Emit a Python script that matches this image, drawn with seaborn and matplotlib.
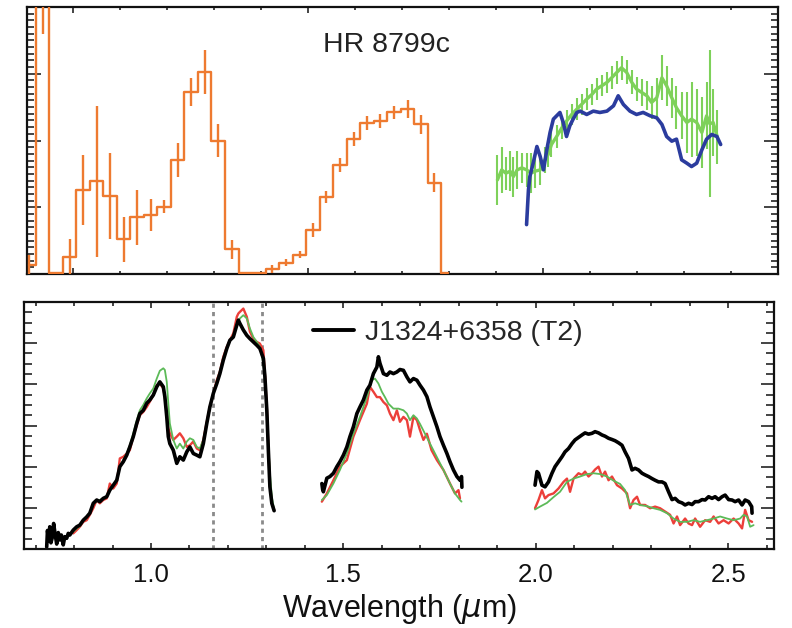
import matplotlib
matplotlib.use("Agg")
import matplotlib.pyplot as plt
from matplotlib.ticker import MultipleLocator, NullFormatter, FormatStrFormatter
from matplotlib.lines import Line2D
import numpy as np
import pandas as pd
import seaborn as sns

# ---------------- top panel data (HR 8799c) ----------------
orange_wl = [0.906, 0.935, 0.964, 0.993, 1.021, 1.050, 1.079, 1.108, 1.136, 1.165,
             1.194, 1.223, 1.251, 1.280, 1.309, 1.338, 1.367, 1.395, 1.424, 1.453,
             1.482, 1.510, 1.539, 1.568, 1.597, 1.625, 1.654, 1.683, 1.712, 1.741,
             1.769, 1.798]
orange_flux = [0.14, 5.0, 0.02, 0.26, 1.26, 1.39, 1.17, 0.52, 0.85, 0.89,
               1.01, 1.71, 2.72, 3.03, 2.00, 0.37, 0.02, 0.02, 0.07, 0.17,
               0.29, 0.66, 1.15, 1.63, 2.02, 2.26, 2.29, 2.42, 2.47, 2.24,
               1.37, 0.02]
orange_err = [0.15, 1.4, 0.0, 0.27, 0.53, 1.13, 0.64, 0.34, 0.41, 0.24,
              0.10, 0.25, 0.21, 0.33, 0.24, 0.14, 0.0, 0.0, 0.06, 0.055,
              0.05, 0.10, 0.09, 0.105, 0.105, 0.11, 0.10, 0.10, 0.14, 0.14,
              0.14, 0.0]

green_top_wl = [1.903, 1.912, 1.921, 1.930, 1.937, 1.945, 1.955, 1.965, 1.974, 1.983,
                1.994, 2.004, 2.011, 2.018, 2.029, 2.040, 2.050, 2.061, 2.072, 2.082,
                2.093, 2.104, 2.114, 2.125, 2.136, 2.146, 2.157, 2.167, 2.178, 2.189,
                2.199, 2.210, 2.221, 2.231, 2.242, 2.253, 2.263, 2.274, 2.284, 2.295,
                2.306, 2.316, 2.327, 2.338, 2.348, 2.355, 2.362, 2.371]
green_top_flux = [1.41, 1.56, 1.51, 1.54, 1.46, 1.56, 1.59, 1.56, 1.51, 1.54,
                  1.56, 1.71, 1.79, 1.94, 2.06, 2.19, 2.29, 2.39, 2.47, 2.54,
                  2.62, 2.69, 2.77, 2.82, 2.87, 2.94, 3.02, 3.09, 3.02, 2.87,
                  2.77, 2.72, 2.67, 2.57, 2.64, 2.94, 2.82, 2.64, 2.49, 2.37,
                  2.27, 2.32, 2.27, 2.12, 2.37, 2.25, 2.27, 2.05]
green_top_err = [0.38, 0.35, 0.25, 0.30, 0.30, 0.28, 0.22, 0.25, 0.30, 0.25,
                 0.22, 0.20, 0.18, 0.18, 0.17, 0.17, 0.17, 0.16, 0.16, 0.16,
                 0.16, 0.16, 0.16, 0.16, 0.16, 0.17, 0.17, 0.18, 0.18, 0.18,
                 0.18, 0.20, 0.22, 0.25, 0.30, 0.34, 0.30, 0.30, 0.32, 0.35,
                 0.45, 0.56, 0.50, 0.53, 0.50, 1.10, 0.50, 0.40]

blue_top_wl = [1.965, 1.969, 1.972, 1.979, 1.987, 1.994, 2.001, 2.008, 2.015, 2.022,
               2.029, 2.036, 2.043, 2.050, 2.057, 2.064, 2.072, 2.079, 2.093, 2.107,
               2.121, 2.136, 2.150, 2.160, 2.171, 2.185, 2.199, 2.213, 2.228, 2.242,
               2.253, 2.263, 2.274, 2.284, 2.295, 2.306, 2.316, 2.327, 2.338, 2.348,
               2.359, 2.370, 2.378]
blue_top_flux = [0.74, 1.26, 1.46, 1.66, 1.91, 1.76, 1.56, 1.86, 2.12, 2.32,
                 2.37, 2.42, 2.27, 2.06, 2.22, 2.32, 2.42, 2.44, 2.39, 2.44,
                 2.42, 2.44, 2.52, 2.67, 2.54, 2.44, 2.39, 2.42, 2.37, 2.34,
                 2.24, 2.06, 1.99, 2.02, 1.71, 1.66, 1.61, 1.66, 1.86, 2.02,
                 2.09, 2.06, 1.94]

# ---------------- bottom panel data (J1324+6358) ----------------
black_J_wl = [0.729, 0.731, 0.734, 0.737, 0.740, 0.744, 0.747, 0.751, 0.755, 0.759,
              0.763, 0.767, 0.772, 0.776, 0.781, 0.785, 0.789, 0.798, 0.807, 0.815,
              0.824, 0.833, 0.841, 0.850, 0.859, 0.867, 0.876, 0.885, 0.893, 0.902,
              0.911, 0.919, 0.928, 0.937, 0.945, 0.954, 0.963, 0.971, 0.980, 0.989,
              0.997, 1.006, 1.015, 1.023, 1.032, 1.036, 1.041, 1.045, 1.049, 1.058,
              1.067, 1.075, 1.084, 1.093, 1.101, 1.110, 1.119, 1.127, 1.136, 1.145,
              1.153, 1.162, 1.171, 1.179, 1.188, 1.197, 1.205, 1.214, 1.223, 1.227,
              1.231, 1.240, 1.249, 1.257, 1.266, 1.275, 1.283, 1.292, 1.296, 1.301,
              1.305, 1.309, 1.314, 1.320]
black_J_flux = [0.05, 0.45, 0.20, 0.54, 0.15, 0.30, 0.62, 0.35, 0.12, 0.40,
                0.22, 0.34, 0.10, 0.30, 0.26, 0.38, 0.34, 0.46, 0.54, 0.58,
                0.70, 0.78, 0.87, 1.11, 1.19, 1.15, 1.23, 1.27, 1.43, 1.55,
                1.67, 2.00, 2.12, 2.28, 2.48, 2.73, 3.05, 3.29, 3.37, 3.54,
                3.62, 3.74, 3.94, 4.06, 3.94, 3.70, 3.21, 2.73, 2.56, 2.40,
                2.08, 2.24, 2.16, 2.36, 2.48, 2.32, 2.28, 2.24, 2.56, 3.05,
                3.45, 3.78, 4.02, 4.26, 4.59, 4.87, 5.07, 5.15, 5.44, 5.56,
                5.48, 5.32, 5.19, 5.11, 5.03, 4.95, 4.87, 4.63, 4.19, 3.37,
                2.40, 1.51, 1.11, 0.93]

model_J_wl = [0.798, 0.807, 0.815, 0.824, 0.833, 0.841, 0.850, 0.859, 0.867, 0.876,
              0.885, 0.893, 0.902, 0.911, 0.919, 0.928, 0.937, 0.945, 0.954, 0.963,
              0.971, 0.980, 0.989, 0.997, 1.006, 1.015, 1.023, 1.032, 1.036, 1.041,
              1.045, 1.049, 1.058, 1.067, 1.075, 1.084, 1.093, 1.101, 1.110, 1.119,
              1.127, 1.136, 1.145, 1.153, 1.162, 1.171, 1.179, 1.188, 1.197, 1.205,
              1.214, 1.223, 1.227, 1.231, 1.240, 1.249, 1.257, 1.266, 1.275, 1.283,
              1.292, 1.296, 1.301, 1.305, 1.309, 1.314, 1.320]
red_J_flux = [0.38, 0.46, 0.54, 0.66, 0.70, 0.83, 0.99, 1.19, 1.11, 1.19,
              1.23, 1.59, 1.47, 1.59, 2.20, 2.24, 2.32, 2.40, 2.73, 3.01,
              3.25, 3.33, 3.45, 3.58, 3.74, 3.98, 4.02, 3.90, 3.70, 3.29,
              2.93, 2.81, 2.65, 2.73, 2.81, 2.69, 2.48, 2.52, 2.61, 2.44,
              2.40, 2.65, 3.09, 3.45, 3.78, 4.10, 4.31, 4.67, 4.91, 5.07,
              5.24, 5.64, 5.72, 5.76, 5.84, 5.64, 5.28, 5.11, 5.03, 4.99,
              4.83, 4.26, 3.45, 2.48, 1.59, 1.11, 0.95]
green_J_flux = [0.42, 0.50, 0.56, 0.69, 0.77, 0.87, 1.09, 1.17, 1.19, 1.23,
                1.29, 1.45, 1.55, 1.69, 2.00, 2.16, 2.32, 2.52, 2.81, 3.13,
                3.37, 3.50, 3.66, 3.78, 3.90, 4.14, 4.33, 4.39, 4.35, 4.06,
                3.54, 3.05, 2.65, 2.44, 2.56, 2.44, 2.61, 2.69, 2.65, 2.48,
                2.44, 2.65, 3.05, 3.45, 3.78, 4.06, 4.31, 4.63, 4.87, 5.07,
                5.19, 5.44, 5.52, 5.60, 5.68, 5.60, 5.36, 5.15, 5.03, 4.91,
                4.51, 4.10, 3.45, 2.56, 1.84, 1.27, 0.95]

black_H_wl = [1.444, 1.446, 1.448, 1.457, 1.465, 1.474, 1.483, 1.491, 1.500, 1.509,
              1.517, 1.526, 1.535, 1.543, 1.552, 1.561, 1.569, 1.578, 1.587, 1.591,
              1.595, 1.604, 1.613, 1.621, 1.630, 1.639, 1.647, 1.656, 1.665, 1.673,
              1.682, 1.691, 1.699, 1.708, 1.717, 1.725, 1.734, 1.743, 1.751, 1.760,
              1.769, 1.777, 1.786, 1.795, 1.803, 1.807, 1.808]
black_H_flux = [1.59, 1.45, 1.39, 1.72, 1.76, 1.84, 2.00, 2.12, 2.28, 2.48,
                2.73, 2.97, 3.29, 3.45, 3.62, 3.86, 3.98, 4.26, 4.42, 4.67,
                4.51, 4.26, 4.22, 4.30, 4.26, 4.30, 4.36, 4.34, 4.18, 4.06,
                4.14, 4.10, 3.98, 3.86, 3.70, 3.45, 3.21, 2.97, 2.73, 2.52,
                2.32, 2.12, 1.92, 1.76, 1.67, 1.76, 1.50]

green_H_wl = [1.444, 1.457, 1.474, 1.491, 1.509, 1.526, 1.543, 1.561, 1.573, 1.582,
              1.591, 1.600, 1.608, 1.617, 1.630, 1.643, 1.656, 1.665, 1.673, 1.682,
              1.691, 1.699, 1.712, 1.725, 1.743, 1.760, 1.777, 1.790, 1.803, 1.807]
green_H_flux = [1.19, 1.31, 1.59, 1.92, 2.32, 2.80, 3.21, 3.69, 4.10, 4.14,
                4.02, 3.82, 3.69, 3.53, 3.41, 3.41, 3.37, 3.29, 3.13, 3.25,
                3.17, 3.04, 2.80, 2.56, 2.23, 1.92, 1.59, 1.35, 1.19, 1.15]

red_H_wl = [1.444, 1.457, 1.474, 1.491, 1.509, 1.526, 1.543, 1.561, 1.569, 1.578,
            1.587, 1.595, 1.604, 1.613, 1.621, 1.630, 1.639, 1.647, 1.656, 1.665,
            1.673, 1.682, 1.691, 1.699, 1.708, 1.717, 1.729, 1.743, 1.760, 1.777,
            1.790, 1.799, 1.803]
red_H_flux = [1.15, 1.35, 1.67, 2.00, 2.16, 2.73, 3.13, 3.53, 3.94, 3.82,
              3.69, 3.69, 3.57, 3.49, 3.29, 3.13, 3.37, 3.09, 3.21, 3.13,
              2.73, 3.21, 3.13, 2.89, 2.65, 2.80, 2.40, 2.16, 1.92, 1.59,
              1.35, 1.43, 1.23]

black_K_wl = [1.998, 2.003, 2.007, 2.016, 2.024, 2.033, 2.042, 2.050, 2.059, 2.068,
              2.076, 2.085, 2.094, 2.102, 2.111, 2.120, 2.128, 2.137, 2.146, 2.154,
              2.163, 2.172, 2.180, 2.189, 2.198, 2.206, 2.215, 2.224, 2.232, 2.241,
              2.250, 2.258, 2.267, 2.276, 2.284, 2.293, 2.302, 2.310, 2.319, 2.328,
              2.336, 2.345, 2.354, 2.362, 2.371, 2.380, 2.388, 2.397, 2.406, 2.414,
              2.423, 2.432, 2.440, 2.449, 2.458, 2.466, 2.475, 2.484, 2.492, 2.501,
              2.510, 2.518, 2.527, 2.536, 2.544, 2.553, 2.561, 2.562]
black_K_flux = [1.55, 1.88, 1.84, 1.55, 1.51, 1.63, 1.84, 2.00, 2.12, 2.24,
                2.36, 2.44, 2.56, 2.65, 2.71, 2.77, 2.82, 2.79, 2.81, 2.85,
                2.82, 2.77, 2.74, 2.69, 2.66, 2.63, 2.58, 2.52, 2.36, 2.20,
                1.92, 1.96, 1.92, 1.84, 1.80, 1.76, 1.71, 1.67, 1.63, 1.63,
                1.59, 1.39, 1.20, 1.23, 1.15, 1.12, 1.07, 1.11, 1.08, 1.15,
                1.15, 1.20, 1.19, 1.27, 1.23, 1.27, 1.20, 1.27, 1.31, 1.20,
                1.19, 1.15, 1.19, 1.07, 1.19, 1.15, 1.03, 0.87]

green_K_wl = [1.998, 2.011, 2.029, 2.046, 2.063, 2.081, 2.098, 2.115, 2.133, 2.150,
              2.167, 2.185, 2.202, 2.219, 2.232, 2.245, 2.258, 2.271, 2.289, 2.306,
              2.323, 2.341, 2.358, 2.375, 2.393, 2.410, 2.427, 2.445, 2.462, 2.479,
              2.497, 2.514, 2.531, 2.540, 2.549, 2.557, 2.566]
green_K_flux = [0.96, 1.03, 1.12, 1.26, 1.39, 1.63, 1.71, 1.76, 1.82, 1.84,
                1.82, 1.76, 1.66, 1.58, 1.43, 1.07, 1.11, 1.07, 1.04, 0.99,
                0.95, 0.87, 0.74, 0.66, 0.66, 0.70, 0.66, 0.70, 0.74, 0.79,
                0.74, 0.70, 0.74, 0.83, 0.79, 0.54, 0.58]

red_K_wl = [1.998, 2.007, 2.016, 2.024, 2.033, 2.046, 2.059, 2.072, 2.081, 2.089,
            2.098, 2.111, 2.120, 2.128, 2.137, 2.146, 2.154, 2.163, 2.172, 2.180,
            2.189, 2.198, 2.211, 2.224, 2.237, 2.245, 2.254, 2.263, 2.271, 2.284,
            2.297, 2.310, 2.323, 2.336, 2.349, 2.358, 2.367, 2.375, 2.388, 2.397,
            2.406, 2.414, 2.427, 2.440, 2.453, 2.462, 2.475, 2.488, 2.501, 2.514,
            2.527, 2.536, 2.544, 2.553, 2.562]
red_K_flux = [0.99, 1.19, 1.43, 1.23, 1.31, 1.35, 1.47, 1.63, 1.71, 1.39,
              1.71, 1.84, 1.80, 1.88, 1.76, 1.84, 1.93, 2.00, 1.76, 1.88,
              1.67, 1.76, 1.55, 1.47, 1.35, 0.99, 1.19, 1.27, 1.07, 1.07,
              0.99, 1.03, 0.99, 0.91, 0.83, 0.62, 0.79, 0.58, 0.74, 0.62,
              0.58, 0.74, 0.54, 0.70, 0.66, 0.79, 0.62, 0.70, 0.62, 0.74,
              0.62, 0.50, 0.95, 0.70, 0.66]

band_edges = [1.160, 1.289]
tick_values = [1.0, 1.5, 2.0, 2.5]
title_text = "HR 8799c"
legend_text = "J1324+6358 (T2)"
xlabel_text = r"Wavelength ($\mu$m)"

# ---------------- style ----------------
sns.set_style("ticks")
plt.rcParams["font.family"] = ["Liberation Sans", "DejaVu Sans"]
plt.rcParams["mathtext.fontset"] = "dejavusans"

C_ORANGE = "#EE7A30"
C_GREEN_T = "#7ED15A"
C_BLUE = "#2B3C9E"
C_RED = "#EC3F3A"
C_GREEN_B = "#5CBA58"

fig = plt.figure(figsize=(7.92, 6.28), dpi=100)
ax1 = fig.add_axes([27 / 792, 1 - 274 / 628, (778 - 27) / 792, (274 - 7) / 628])
ax2 = fig.add_axes([24 / 792, 1 - 549 / 628, (774 - 24) / 792, (549 - 302) / 628])


def seg_df(wl, fl, name):
    return pd.DataFrame({"wl": wl, "flux": fl, "seg": name})


# ---- top panel ----
o = pd.DataFrame({"wl": orange_wl, "flux": orange_flux, "err": orange_err})
sns.lineplot(data=o, x="wl", y="flux", ax=ax1, color=C_ORANGE, lw=1.7,
             drawstyle="steps-mid", estimator=None, zorder=3)
oe = o[o["err"] > 0]
ax1.errorbar(oe["wl"], oe["flux"], yerr=oe["err"], fmt="none",
             ecolor=C_ORANGE, elinewidth=1.7, capsize=0, zorder=3)

g = pd.DataFrame({"wl": green_top_wl, "flux": green_top_flux, "err": green_top_err})
ax1.errorbar(g["wl"], g["flux"], yerr=g["err"], fmt="none",
             ecolor=C_GREEN_T, elinewidth=1.5, capsize=0, zorder=2)
sns.lineplot(data=g, x="wl", y="flux", ax=ax1, color=C_GREEN_T, lw=2.4,
             estimator=None, zorder=2)
b = pd.DataFrame({"wl": blue_top_wl, "flux": blue_top_flux})
sns.lineplot(data=b, x="wl", y="flux", ax=ax1, color=C_BLUE, lw=2.6,
             estimator=None, zorder=2.5)

ax1.text(0.478, 0.831, title_text, transform=ax1.transAxes, ha="center",
         va="baseline", fontsize=20.5, color="#222222")

ax1.set_xlim(0.902, 2.5)
ax1.set_ylim(0, 4)
ax1.xaxis.set_major_locator(MultipleLocator(0.5))
ax1.xaxis.set_minor_locator(MultipleLocator(0.1))
ax1.yaxis.set_major_locator(MultipleLocator(1))
ax1.yaxis.set_minor_locator(MultipleLocator(0.1))
ax1.xaxis.set_major_formatter(NullFormatter())
ax1.yaxis.set_major_formatter(NullFormatter())
ax1.set_xlabel("")
ax1.set_ylabel("")

# ---- bottom panel ----
red_df = pd.concat([seg_df(model_J_wl, red_J_flux, "J"),
                    seg_df(red_H_wl, red_H_flux, "H"),
                    seg_df(red_K_wl, red_K_flux, "K")])
green_df = pd.concat([seg_df(model_J_wl, green_J_flux, "J"),
                      seg_df(green_H_wl, green_H_flux, "H"),
                      seg_df(green_K_wl, green_K_flux, "K")])
black_df = pd.concat([seg_df(black_J_wl, black_J_flux, "J"),
                      seg_df(black_H_wl, black_H_flux, "H"),
                      seg_df(black_K_wl, black_K_flux, "K")])

sns.lineplot(data=red_df, x="wl", y="flux", units="seg", estimator=None, ax=ax2,
             color=C_RED, lw=1.7, zorder=2, sort=False)
sns.lineplot(data=green_df, x="wl", y="flux", units="seg", estimator=None, ax=ax2,
             color=C_GREEN_B, lw=1.3, zorder=2.2, sort=False)
sns.lineplot(data=black_df, x="wl", y="flux", units="seg", estimator=None, ax=ax2,
             color="black", lw=2.6, zorder=2.5, sort=False)

for xv in band_edges:
    ax2.axvline(xv, color="#8a8a8a", lw=2.0, ls=(0, (1.5, 1.5)), zorder=1)

handle = Line2D([], [], color="black", lw=2.8)
ax2.legend([handle], [legend_text], loc="center left",
           bbox_to_anchor=(0.385, 0.874), frameon=False, fontsize=20.5,
           handlelength=1.45, handletextpad=0.4, borderpad=0, borderaxespad=0)

ax2.set_xlim(0.670, 2.619)
ax2.set_ylim(0, 6)
ax2.set_xticks(tick_values)
ax2.xaxis.set_major_formatter(FormatStrFormatter("%.1f"))
ax2.xaxis.set_minor_locator(MultipleLocator(0.1))
ax2.yaxis.set_major_locator(MultipleLocator(1))
ax2.yaxis.set_minor_locator(MultipleLocator(0.25))
ax2.yaxis.set_major_formatter(NullFormatter())
ax2.set_ylabel("")
ax2.set_xlabel(xlabel_text, fontsize=22, labelpad=4, color="#111111")

for ax in (ax1, ax2):
    for s in ax.spines.values():
        s.set_linewidth(1.6)
        s.set_color("#111111")
    ax.tick_params(which="both", direction="in", top=True, right=True,
                   color="#111111", width=1.1)

ax1.tick_params(axis="x", which="major", length=4)
ax1.tick_params(axis="x", which="minor", length=2.4)
ax1.tick_params(axis="y", which="major", length=10)
ax1.tick_params(axis="y", which="minor", length=5)
ax2.tick_params(axis="x", which="major", length=4.3, labelsize=18.5, pad=10,
                labelcolor="#111111")
ax2.tick_params(axis="x", which="minor", length=2.9)
ax2.tick_params(axis="y", which="major", length=9.4)
ax2.tick_params(axis="y", which="minor", length=5.8)

fig.savefig("out.png", dpi=100, facecolor="white")
